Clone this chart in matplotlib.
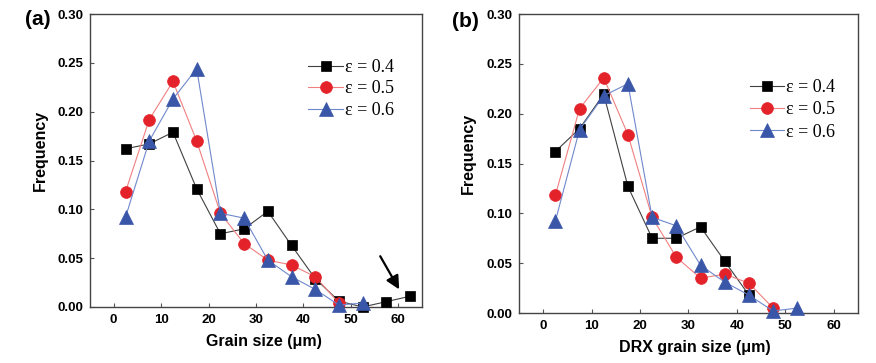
import matplotlib
matplotlib.use("Agg")
import matplotlib.pyplot as plt

# ---- data ----
x_a = [2.5, 7.5, 12.5, 17.5, 22.5, 27.5, 32.5, 37.5, 42.5, 47.5, 52.5, 57.5, 62.5]
a_04 = [0.162, 0.167, 0.179, 0.121, 0.075, 0.080, 0.098, 0.063, 0.029, 0.006, 0.0, 0.0055, 0.011]
x_a05 = [2.5, 7.5, 12.5, 17.5, 22.5, 27.5, 32.5, 37.5, 42.5, 47.5]
a_05 = [0.118, 0.192, 0.231, 0.170, 0.096, 0.065, 0.048, 0.043, 0.031, 0.004]
x_a06 = [2.5, 7.5, 12.5, 17.5, 22.5, 27.5, 32.5, 37.5, 42.5, 47.5, 52.5]
a_06 = [0.092, 0.170, 0.213, 0.244, 0.096, 0.091, 0.048, 0.031, 0.018, 0.002, 0.004]

x_b04 = [2.5, 7.5, 12.5, 17.5, 22.5, 27.5, 32.5, 37.5, 42.5]
b_04 = [0.162, 0.185, 0.2195, 0.127, 0.075, 0.075, 0.0865, 0.052, 0.018]
x_b05 = [2.5, 7.5, 12.5, 17.5, 22.5, 27.5, 32.5, 37.5, 42.5, 47.5]
b_05 = [0.118, 0.205, 0.236, 0.179, 0.096, 0.056, 0.035, 0.039, 0.030, 0.005]
x_b06 = [2.5, 7.5, 12.5, 17.5, 22.5, 27.5, 32.5, 37.5, 42.5, 47.5, 52.5]
b_06 = [0.092, 0.184, 0.218, 0.230, 0.096, 0.0875, 0.048, 0.031, 0.018, 0.002, 0.005]

labels = ["ε = 0.4", "ε = 0.5", "ε = 0.6"]
xticks = [0, 10, 20, 30, 40, 50, 60]
yticks = [0.00, 0.05, 0.10, 0.15, 0.20, 0.25, 0.30]

colors = ["#000000", "#e3222a", "#3a56a8"]
lcolors = ["#404040", "#f08080", "#7088cc"]
markers = ["s", "o", "^"]
msizes = [7.5, 8.5, 9.5]

plt.rcParams['font.family'] = ['Liberation Sans', 'DejaVu Sans']

fig = plt.figure(figsize=(8.76, 3.63), dpi=100)
ax_a = fig.add_axes([0.1027, 0.1543, 0.379, 0.807])
ax_b = fig.add_axes([0.5925, 0.1377, 0.3867, 0.8237])

def style(ax, xlabel, xl_pos, yl_pos):
    ax.set_xlim(-5, 65)
    ax.set_ylim(0, 0.30)
    ax.set_xticks(xticks)
    ax.set_yticks(yticks)
    ax.set_xticklabels([str(t) for t in xticks], fontweight='bold', fontsize=9.5)
    ax.set_yticklabels([f"{t:.2f}" for t in yticks], fontweight='bold', fontsize=9.5)
    ax.tick_params(direction='in', length=3, width=0.8, color='#555555', pad=5)
    for s in ax.spines.values():
        s.set_color('#444444')
        s.set_linewidth(1.0)
    ax.set_xlabel(xlabel, fontweight='bold', fontsize=11.5, va='center', ha='center')
    ax.set_ylabel("Frequency", fontweight='bold', fontsize=11.5, va='center', ha='center')
    ax.xaxis.set_label_coords(*xl_pos)
    ax.yaxis.set_label_coords(*yl_pos)

series_a = [(x_a, a_04), (x_a05, a_05), (x_a06, a_06)]
series_b = [(x_b04, b_04), (x_b05, b_05), (x_b06, b_06)]

for ax, series in [(ax_a, series_a), (ax_b, series_b)]:
    for (xs, ys), c, lc, m, ms, lab in zip(series, colors, lcolors, markers, msizes, labels):
        ax.plot(xs, ys, color=lc, linewidth=0.8, marker=m, markersize=ms,
                markerfacecolor=c, markeredgecolor=c, markeredgewidth=0.5,
                label=lab, clip_on=False, zorder=3)

style(ax_a, "Grain size (μm)", (0.524, -0.119), (-0.15, 0.536))
style(ax_b, "DRX grain size (μm)", (0.52, -0.117), (-0.151, 0.533))

leg_font = {'family': ['Liberation Serif', 'DejaVu Serif'], 'size': 13}
ax_a.legend(loc='upper left', bbox_to_anchor=(0.62, 0.89), frameon=False, prop=leg_font,
            handlelength=1.9, handletextpad=0.1, labelspacing=0.25, borderpad=0.2)
ax_b.legend(loc='upper left', bbox_to_anchor=(0.645, 0.825), frameon=False, prop=leg_font,
            handlelength=1.9, handletextpad=0.1, labelspacing=0.3, borderpad=0.2)

ax_a.annotate("", xy=(60.2, 0.018), xytext=(56.2, 0.052),
              arrowprops=dict(arrowstyle='-|>', color='black', lw=1.6,
                              mutation_scale=20, shrinkA=0, shrinkB=0))

fig.text(0.043, 0.945, "(a)", fontweight='bold', fontsize=15, ha='center', va='center')
fig.text(0.531, 0.94, "(b)", fontweight='bold', fontsize=15, ha='center', va='center')

fig.savefig("out.png", dpi=100)
